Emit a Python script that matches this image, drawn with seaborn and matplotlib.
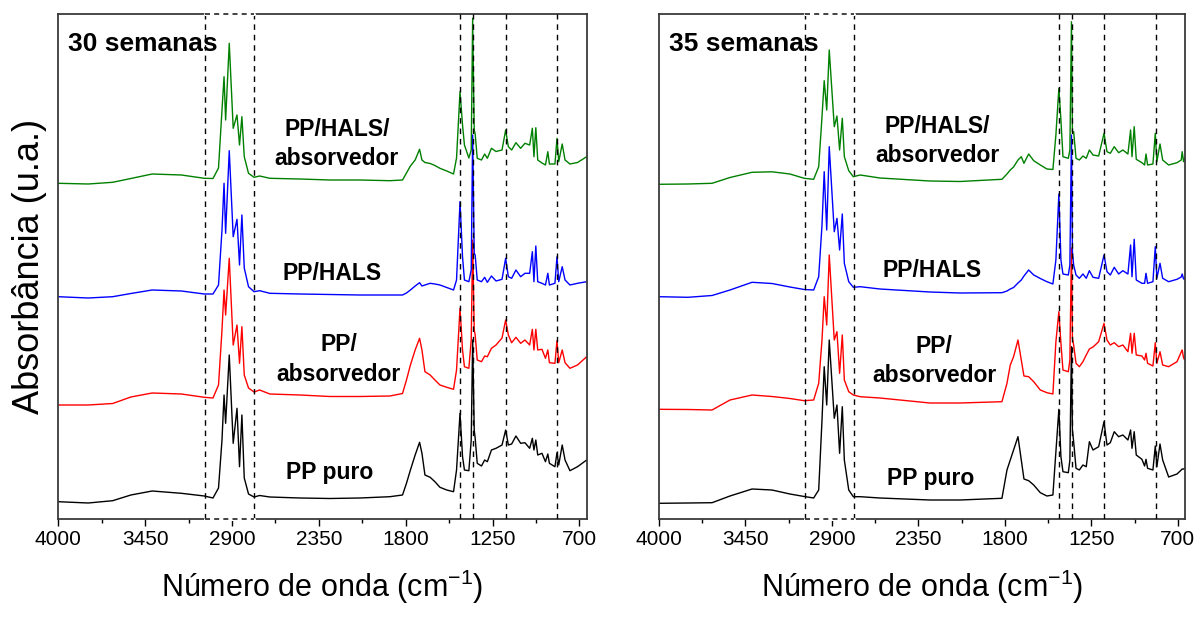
import numpy as np
import pandas as pd
import matplotlib
matplotlib.use("Agg")
import matplotlib.pyplot as plt
from matplotlib.ticker import FixedLocator
import seaborn as sns

# ---------------- data (wavenumber in cm-1, absorbance in arbitrary stacked units) ----------------
wn_30 = [4000, 3810, 3655, 3540, 3405, 3220, 3075, 3020, 2985, 2963,
         2950, 2940, 2917, 2892, 2868, 2852, 2837, 2822, 2795, 2760,
         2725, 2660, 2470, 2280, 2090, 1900, 1820, 1795, 1770, 1740,
         1712, 1697, 1678, 1645, 1615, 1583, 1540, 1497, 1478, 1456,
         1440, 1428, 1400, 1385, 1376, 1366, 1360, 1347, 1320, 1300,
         1283, 1257, 1228, 1190, 1167, 1150, 1129, 1102, 1072, 1045,
         1015, 998, 988, 976, 964, 937, 915, 900, 890, 855,
         842, 831, 809, 791, 760, 712, 654]

pp_hals_abs_30 = [335.7, 335, 336.7, 340.5, 345, 344, 340.7, 340.5, 351, 409,
                  442.3, 399, 475.7, 390.7, 404, 374, 402.3, 362.3, 345.7, 341.7,
                  343, 340.7, 340, 339, 339, 338.3, 339, 346, 353, 359,
                  369.7, 359, 356.5, 355.5, 353.5, 350.7, 348, 345, 361, 427.3,
                  394, 374, 361, 369, 500.7, 389, 385, 360.7, 359, 365,
                  360.7, 370.7, 367.5, 369, 389, 372.3, 369, 376.3, 370.7, 375.7,
                  374, 390.7, 362.3, 391.3, 359, 356, 354, 367.3, 355, 355,
                  380.7, 357.3, 375, 359, 355, 356.5, 362.3]

pp_hals_30 = [222.3, 221, 222.3, 225.5, 229, 228, 225, 225, 234, 289,
              335.7, 285.7, 368.3, 282.3, 299.7, 254, 304, 251, 232.3, 227.3,
              228.3, 225.7, 225, 224.5, 224, 224, 224, 226, 229, 233,
              236.3, 233, 234, 235.7, 235, 234, 231.5, 229, 239, 317.3,
              262, 239, 237.3, 249, 384, 265.7, 264, 239, 237.3, 241.7,
              236.7, 243, 238, 239.7, 260.7, 242.3, 240.7, 249, 242.3, 245.7,
              245.7, 267.3, 237.3, 273, 237.3, 235.7, 234, 245.7, 234, 235.7,
              262.3, 237.3, 252.3, 239, 234, 235.7, 237.3]

pp_abs_30 = [114, 114, 115.5, 122, 126, 125, 121.7, 121, 134, 189,
             229, 204, 260.7, 174, 194, 155.7, 192.3, 144, 131, 127,
             129, 125, 124, 122.5, 122.5, 123, 125.5, 139, 154, 169,
             180.7, 169, 147.3, 144, 139, 134, 131.7, 129.7, 149, 210.7,
             169, 152.3, 150.7, 179, 279, 189, 184, 159, 157.3, 163,
             162.3, 170.7, 174, 181, 199, 184, 176.3, 181.7, 175.7, 179,
             174, 189.7, 169, 189.7, 169, 169.7, 160.7, 169, 156.3, 155.7,
             178.3, 156.3, 169, 156.3, 150.7, 154, 162.3]

pp_puro_30 = [17.3, 16, 18.3, 24, 28, 25.7, 23, 21, 31, 79,
              124, 95.7, 164, 75.7, 110.7, 52.3, 104, 41, 25, 22,
              23.5, 22, 21, 20.5, 21, 22.3, 24, 35.7, 49, 64,
              76.7, 65.7, 44, 41.7, 37.3, 31.7, 29, 27.3, 49, 105.7,
              62.3, 49, 48.3, 79, 179, 89, 80.7, 55.7, 53, 59,
              57.3, 69, 70.7, 74, 89, 74, 75, 83, 75.7, 76.3,
              70.7, 80.7, 69, 79, 64, 65.7, 57.3, 65, 55.7, 52.3,
              66.3, 54, 74, 59, 48.3, 52.3, 59]

wn_35 = [4000, 3815, 3662, 3548, 3408, 3281, 3167, 3076, 3016, 2984,
         2963, 2949, 2933, 2917, 2885, 2868, 2851, 2834, 2821, 2793,
         2764, 2720, 2595, 2277, 2086, 1819, 1787, 1766, 1745, 1717,
         1696, 1679, 1649, 1617, 1575, 1533, 1495, 1476, 1457, 1444,
         1431, 1397, 1387, 1377, 1371, 1363, 1348, 1327, 1304, 1283,
         1263, 1240, 1204, 1170, 1151, 1130, 1105, 1077, 1050, 1018,
         1001, 992, 978, 965, 929, 912, 903, 893, 859, 844,
         834, 814, 797, 759, 706, 679, 673, 664, 657]

pp_hals_abs_35 = [334.7, 335, 335.7, 341.5, 346.7, 347.2, 345, 340.7, 339.7, 352.3,
                  402.3, 438.3, 409, 469, 392.3, 403, 369, 400.7, 362.3, 348.3,
                  342.3, 344, 341, 338, 337.5, 339.7, 345, 349, 352, 359,
                  362.3, 355.7, 365, 358.3, 354, 350, 349.5, 384, 430.7, 399,
                  362.3, 360.7, 369, 497.3, 387.3, 387.3, 360.7, 359, 363, 360.7,
                  369, 364, 363, 385.7, 367.3, 365.7, 372.3, 366.3, 369, 365,
                  389, 362.3, 392.3, 359.7, 356.3, 354, 365, 354, 355, 385.7,
                  357.3, 375, 359, 354, 356.3, 359, 367.3, 357.3, 360.7]

pp_hals_35 = [222.3, 221.7, 223.5, 229, 236.7, 235.5, 232, 229.5, 229, 242.3,
              294, 347.3, 289, 372.3, 287.3, 300.7, 269, 305, 255.7, 237.3,
              231.7, 232.3, 230, 227, 226, 226.3, 228, 230, 231.5, 236,
              239, 243, 249, 244, 240.5, 237.3, 235, 259, 325, 259,
              245, 244, 254, 384, 267.3, 254, 244, 240.7, 245, 240.7,
              248.3, 241.7, 240.7, 264, 247.3, 244, 251.7, 245, 248.3, 245,
              274, 242.3, 279.7, 239, 235.7, 235.7, 245.7, 235.7, 237.3, 272.3,
              240.7, 255.7, 240.7, 237.3, 239.7, 242, 245, 240, 240.7]

pp_abs_35 = [109.7, 109.5, 109, 119, 124, 122.5, 120.5, 118.3, 119, 135.7,
             179, 222.3, 194, 264, 179, 187.3, 145.7, 184, 139, 127.3,
             124, 122.3, 121, 116, 116, 117.3, 135.7, 154, 162.3, 179,
             159, 143, 142.3, 137.3, 129, 126.3, 125, 177, 207.3, 175.7,
             149, 147.3, 159, 271, 181, 174, 155.7, 152.3, 157.3, 164,
             170, 172, 177.3, 195.7, 179, 174, 176.3, 172.3, 174, 167.3,
             185.7, 165.7, 185.7, 164, 163, 159, 165.7, 155.7, 153, 176.3,
             155.7, 167.3, 154, 152.3, 157.3, 167, 169, 161, 159]

pp_puro_35 = [15.7, 16, 16.3, 23, 30, 29, 25, 22.5, 21, 29,
              99, 152.3, 114, 179, 100.7, 114, 65.7, 112.3, 59, 29,
              22.3, 22.3, 21, 19, 19, 20.7, 49, 59, 69, 82.3,
              59, 40, 38.3, 34, 26.3, 23, 24, 67, 109.7, 62.3,
              47.3, 46.3, 59, 172.3, 89, 77.3, 50.7, 49, 54, 52.3,
              77.3, 69, 72.3, 97.3, 74, 76.3, 87.3, 82.3, 84, 79,
              89, 70.7, 87.3, 64, 59.7, 53, 59.7, 50.7, 49, 73,
              52.3, 75, 59, 42, 45, 49, 50, 50, 50.7]

samples = ["PP puro", "PP/absorvedor", "PP/HALS", "PP/HALS/absorvedor"]
sample_labels = ["PP puro", "PP/\nabsorvedor", "PP/HALS", "PP/HALS/\nabsorvedor"]
panel_titles = ["30 semanas", "35 semanas"]
band_lines = [3073, 2760, 1456, 1376, 1167, 841]
box_band = [3073, 2760]
xticks = [4000, 3450, 2900, 2350, 1800, 1250, 700]

panels = [
    (wn_30, [pp_puro_30, pp_abs_30, pp_hals_30, pp_hals_abs_30]),
    (wn_35, [pp_puro_35, pp_abs_35, pp_hals_35, pp_hals_abs_35]),
]

# ---------------- style ----------------
sns.set_style("white")
plt.rcParams["font.family"] = ["Liberation Sans", "DejaVu Sans"]
plt.rcParams["mathtext.fontset"] = "custom"
plt.rcParams["mathtext.rm"] = "Liberation Sans"
plt.rcParams["mathtext.it"] = "Liberation Sans:italic"
plt.rcParams["mathtext.bf"] = "Liberation Sans:bold"
plt.rcParams["text.color"] = "black"
plt.rcParams["axes.labelcolor"] = "black"
plt.rcParams["xtick.color"] = "black"

palette = {"PP puro": "#000000", "PP/absorvedor": "#FF0000",
           "PP/HALS": "#0000FF", "PP/HALS/absorvedor": "#008000"}

fig = plt.figure(figsize=(12, 6.22), dpi=100)
W, H = 1200.0, 622.0
axes_rects = [
    [58.2 / W, 1 - 518.5 / H, 528.8 / W, 505 / H],
    [658.9 / W, 1 - 518.5 / H, 525.8 / W, 505 / H],
]
xlims = [(4000, 652), (4000, 657)]
label_pos = [
    [(0.514, 0.092), (0.530, 0.315), (0.518, 0.486), (0.527, 0.741)],
    [(0.516, 0.080), (0.524, 0.312), (0.519, 0.492), (0.529, 0.747)],
]

for i, (wn, traces) in enumerate(panels):
    ax = fig.add_axes(axes_rects[i])
    rows = []
    for name, vals in zip(samples, traces):
        rows.append(pd.DataFrame({"wn": wn, "abs": vals, "amostra": name}))
    df = pd.concat(rows, ignore_index=True)
    sns.lineplot(data=df, x="wn", y="abs", hue="amostra", hue_order=samples,
                 palette=palette, estimator=None, sort=False, legend=False,
                 linewidth=1.0, ax=ax)

    ax.set_xlim(*xlims[i])
    ax.set_ylim(0.5, 505.5)
    ax.set_yticks([])

    for b in band_lines:
        ax.axvline(b, color="black", lw=1.0, ls=(0, (4, 3.5)), zorder=4)
    # dashed box edges at top and bottom
    trans = ax.get_xaxis_transform()
    for yy in (0, 1):
        ax.plot(box_band, [yy, yy], transform=trans, color="white", lw=2.2,
                clip_on=False, zorder=5)
        ax.plot(box_band, [yy, yy], transform=trans, color="#222222", lw=1.2,
                ls=(0, (3, 2.5)), clip_on=False, zorder=6)

    ax.set_xticks(xticks)
    minors = [(a + b) / 2 for a, b in zip(xticks[:-1], xticks[1:])]
    ax.xaxis.set_minor_locator(FixedLocator(minors))
    ax.tick_params(axis="x", which="major", direction="out", length=5, width=1,
                   labelsize=15, pad=3, bottom=True, colors="black")
    ax.tick_params(axis="x", which="minor", direction="out", length=3, width=1,
                   bottom=True)
    for s in ax.spines.values():
        s.set_color("#3a3a3a")
        s.set_linewidth(1.3)

    ax.set_xlabel(r"Número de onda (cm$^{-1}$)", fontsize=22, labelpad=14)
    if i == 0:
        ax.set_ylabel("Absorbância (u.a.)", fontsize=26, labelpad=8)
    else:
        ax.set_ylabel("")

    ax.text(0.0185, 0.94, panel_titles[i], transform=ax.transAxes,
            fontsize=19, fontweight="bold", ha="left", va="center")
    for (px, py), lab in zip(label_pos[i], sample_labels):
        ax.text(px, py, lab, transform=ax.transAxes, fontsize=16.5,
                fontweight="bold", ha="center", va="center",
                multialignment="center", linespacing=1.35)

fig.savefig("out.png", dpi=100)
